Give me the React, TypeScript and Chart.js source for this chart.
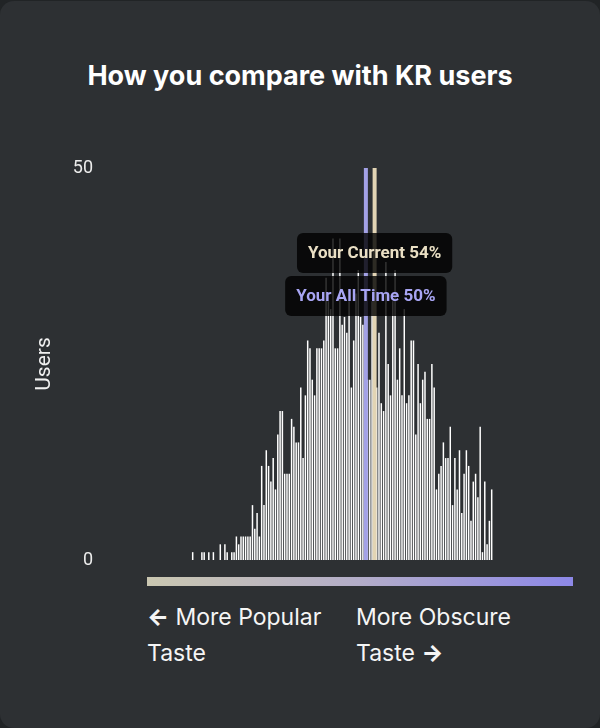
import React, { useEffect, useRef } from "react";
import { Chart, registerables } from "chart.js";

Chart.register(...registerables);

// ---- data ----
const chartTitle = "How you compare with KR users";
const yAxisTitle = "Users";
const yTickValues = [0, 50];
const userCounts = [
  1, 0, 0, 0, 1, 1, 0, 1, 0, 1,
  0, 0, 2, 0, 2, 1, 0, 1, 1, 3,
  2, 3, 3, 3, 3, 3, 7, 4, 6, 3,
  12, 7, 14, 12, 10, 13, 9, 16, 19, 19,
  11, 11, 11, 18, 17, 15, 15, 22, 13, 21,
  28, 27, 23, 21, 27, 27,
  27, 28, 36, 33, 32, 41, 27, 27, 41, 30,
  31, 29, 33, 22, 28, 34, 37, 31, 30, 26,
  23, 23, 33, 22, 22, 29, 20, 19, 38, 25,
  21, 33, 37, 23, 27, 21, 32, 20, 21, 28,
  28, 16, 25, 20, 23, 24, 18, 18, 25, 22,
  9, 11, 12, 15, 13, 13, 17, 7, 13, 9,
  14, 6, 11, 14, 12, 5, 10, 11, 8, 17,
  1, 10, 2, 5, 9,
];
const binIndex = userCounts.map((_, i) => i);
const xRange = [-40.3, 168.4];
const markerLabels = ["Your Current 54%", "Your All Time 50%"];
const markerPositions = [79.1, 75.3];
const markerLineColors = ["#e2d4b4", "#a3a1e6"];
const markerTextColors = ["#eadfc4", "#a8a5f4"];
const markerBoxOffsets = [85, 128];
const leftCaption = ["More Popular", "Taste"];
const rightCaption = ["More Obscure", "Taste"];

const markerPlugin = {
  id: "markers",
  afterDatasetsDraw(chart: any) {
    const { ctx, chartArea } = chart;
    const x = chart.scales.x;
    const y = chart.scales.y;
    const top = y.getPixelForValue(50);
    const bottom = y.getPixelForValue(0);
    ctx.save();
    markerPositions.forEach((pos, k) => {
      const px = x.getPixelForValue(pos);
      ctx.fillStyle = markerLineColors[k];
      ctx.fillRect(px - 2, top, 4, bottom - top);
    });
    ctx.font = "bold 17px Roboto";
    ctx.textAlign = "center";
    ctx.textBaseline = "middle";
    markerLabels.forEach((label, k) => {
      const px = x.getPixelForValue(markerPositions[k]);
      const tw = ctx.measureText(label).width;
      const w = tw + 22;
      const h = 40;
      const cy = chartArea.top + markerBoxOffsets[k];
      ctx.fillStyle = "rgba(0,0,0,0.8)";
      ctx.beginPath();
      (ctx as any).roundRect(px - w / 2, cy - h / 2, w, h, 6);
      ctx.fill();
      ctx.fillStyle = markerTextColors[k];
      ctx.fillText(label, px, cy + 1);
    });
    ctx.restore();
  },
};

export default function App() {
  const canvasRef = useRef<HTMLCanvasElement | null>(null);

  useEffect(() => {
    if (!canvasRef.current) return;
    const chart = new Chart(canvasRef.current, {
      type: "bar",
      data: {
        datasets: [
          {
            data: userCounts.map((v, i) => ({ x: binIndex[i], y: v })) as any,
            backgroundColor: "#ffffff",
            borderWidth: 0,
            barPercentage: 0.65,
            categoryPercentage: 1,
          },
        ],
      },
      options: {
        animation: false,
        responsive: false,
        layout: { padding: { left: 28, right: 20, top: 28, bottom: 20 } },
        plugins: {
          legend: { display: false },
          tooltip: { enabled: false },
          title: { display: false },
        },
        scales: {
          x: {
            type: "linear",
            min: xRange[0],
            max: xRange[1],
            display: false,
            offset: false,
          },
          y: {
            min: 0,
            max: 50,
            afterFit(s: any) {
              s.width = 72;
            },
            afterBuildTicks(s: any) {
              s.ticks = yTickValues.map((v) => ({ value: v }));
            },
            grid: { display: false, drawTicks: false },
            border: { display: false },
            ticks: {
              color: "#ececec",
              font: { family: "Roboto", size: 18 },
              padding: 7,
            },
            title: {
              display: true,
              text: yAxisTitle,
              color: "#f0f0f0",
              font: { family: "Roboto", size: 21 },
              padding: { top: 4, bottom: 4 },
            },
          },
        },
      } as any,
      plugins: [markerPlugin],
    });
    return () => chart.destroy();
  }, []);

  const captionStyle: React.CSSProperties = {
    position: "absolute",
    top: 598,
    width: 200,
    fontFamily: "Inter, sans-serif",
    fontSize: 23,
    lineHeight: "36px",
    color: "#f5f5f5",
  };

  return (
    <div style={{ position: "fixed", inset: 0, background: "#212426" }}>
      <div
        style={{
          position: "absolute",
          left: 0,
          top: 1,
          width: 600,
          height: 727,
          background: "#2d3033",
          borderRadius: 14,
          overflow: "hidden",
        }}
      >
        <div
          style={{
            position: "absolute",
            top: 60,
            left: 0,
            width: 600,
            textAlign: "center",
            fontFamily: "Inter, sans-serif",
            fontWeight: 700,
            fontSize: 27,
            lineHeight: "30px",
            color: "#ffffff",
          }}
        >
          {chartTitle}
        </div>
        <canvas
          ref={canvasRef}
          width={600}
          height={440}
          style={{ position: "absolute", left: 0, top: 139, width: 600, height: 440 }}
        />
        <div
          style={{
            position: "absolute",
            left: 147,
            top: 576,
            width: 426,
            height: 9,
            background: "linear-gradient(90deg, #cac7b1, #b3adc9 50%, #8d88e8)",
          }}
        />
        <div style={{ ...captionStyle, left: 147 }}>
          <span style={{ fontWeight: 800 }}>←</span> {leftCaption[0]} {leftCaption[1]}
        </div>
        <div style={{ ...captionStyle, left: 356 }}>
          {rightCaption[0]} {rightCaption[1]} <span style={{ fontWeight: 800 }}>→</span>
        </div>
      </div>
    </div>
  );
}
